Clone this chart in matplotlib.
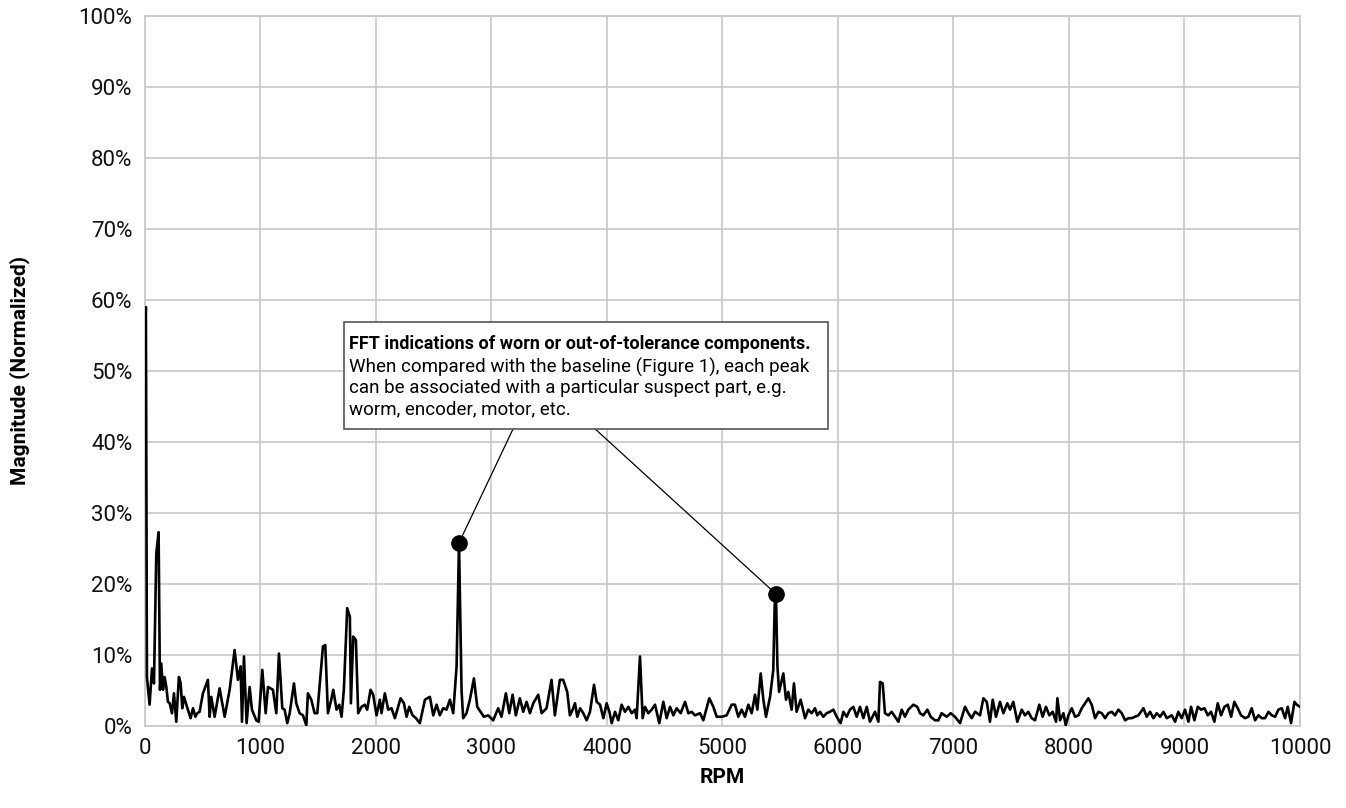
import matplotlib
matplotlib.use("Agg")
import matplotlib.pyplot as plt
from matplotlib.ticker import FuncFormatter

plt.rcParams['font.family'] = ['Roboto', 'DejaVu Sans']

# FFT spectrum (RPM, % magnitude)
rpm = [0, 8, 17, 40, 61, 78, 98, 118, 130,
       141, 156, 170, 185, 199, 214, 234, 251, 271, 294, 309, 323, 338, 358, 372, 395, 416, 436, 453, 473,
       502, 545, 560, 574, 603, 646, 690, 733, 776, 805, 828, 840, 857, 880, 906, 926, 964, 984, 1016, 1045,
       1065, 1108, 1137, 1160, 1189, 1209, 1232, 1253, 1290, 1310, 1339, 1368, 1397, 1411, 1440, 1469, 1492,
       1541, 1561, 1584, 1613,
       1630, 1659, 1682, 1702, 1722, 1751, 1774, 1783, 1803, 1826, 1846, 1875, 1904, 1924, 1953, 1976, 2005,
       2034, 2048, 2077, 2106, 2135, 2164, 2213, 2242, 2265, 2288, 2317, 2346, 2380, 2424, 2444, 2467, 2496,
       2525, 2553, 2582, 2611, 2640, 2669, 2698, 2719, 2741, 2755, 2784, 2813, 2848, 2877, 2906, 2934, 2972,
       3015, 3058, 3087, 3125, 3154, 3183, 3211, 3246, 3275, 3304, 3333, 3362, 3405, 3434, 3477, 3520, 3549,
       3592, 3621, 3656, 3679,
       3703, 3723, 3743, 3767, 3795, 3824, 3853, 3888, 3911, 3940, 3969, 3997, 4021, 4041, 4070, 4098, 4127,
       4156, 4185, 4214, 4243, 4257, 4286, 4309, 4329, 4358, 4387, 4416, 4453, 4488, 4517, 4546, 4575, 4603,
       4638, 4676, 4705, 4733, 4762, 4806, 4834, 4886, 4921, 4950, 4993, 5036, 5080, 5108, 5137, 5166, 5195,
       5224, 5253, 5282, 5302, 5331, 5354, 5377, 5412, 5440, 5452, 5463, 5476, 5490, 5527, 5550, 5570, 5599,
       5619, 5642, 5677, 5715, 5743, 5772,
       5801, 5821, 5845, 5873, 5902, 5931, 5960, 5989, 6023, 6047, 6075, 6104, 6133, 6162, 6191, 6220, 6249,
       6277, 6321, 6350, 6364, 6387, 6407, 6436, 6465, 6494, 6523, 6552, 6580, 6609, 6653, 6687, 6710, 6739,
       6774, 6803, 6840, 6869, 6898, 6941, 6976, 7013, 7057, 7100, 7129, 7158, 7187, 7230, 7259, 7288, 7316,
       7340, 7368, 7403, 7432, 7466, 7490, 7518, 7553, 7591, 7619, 7648, 7677, 7706, 7743, 7772, 7801, 7830,
       7859, 7888,
       7900, 7923, 7952, 7972, 7995, 8024, 8053, 8082, 8111, 8139, 8168, 8197, 8226, 8255, 8284, 8313, 8341,
       8370, 8399, 8428, 8457, 8486, 8515, 8543, 8572, 8601, 8645, 8673, 8702, 8731, 8760, 8789, 8818, 8847,
       8890, 8919, 8947, 8976, 9005, 9034, 9057, 9086, 9115, 9144, 9173, 9202, 9230, 9259, 9288, 9317, 9346,
       9375, 9404, 9432, 9461, 9490, 9525, 9553, 9582, 9611, 9640, 9669, 9698, 9727, 9756, 9785, 9813, 9842,
       9871, 9894, 9923, 9952, 9972, 10000]

magnitude = [56.0, 59.0, 6.9, 3.0, 8.1, 6.0, 24.3, 27.3, 5.1,
             8.8, 5.1, 6.9, 5.5, 3.4, 3.2, 1.8, 4.6, 0.6, 6.9, 6.0, 2.5, 4.1, 3.0, 2.3, 1.1, 2.5, 1.3, 1.8, 2.0,
             4.6, 6.5, 1.3, 4.1, 1.3, 5.3, 1.3, 5.1, 10.7, 6.5, 8.4, 0.6, 9.8, 0.4, 5.5, 2.3, 0.8, 0.6, 7.9, 1.8,
             5.5, 5.1, 1.8, 10.2, 2.5, 2.3, 0.4, 1.8, 6.0, 3.2, 1.8, 1.5, 0.1, 4.6, 3.7, 1.8, 1.8,
             11.2, 11.4, 1.8, 3.7,
             5.1, 2.3, 3.0, 1.3, 5.1, 16.6, 15.4, 3.2, 12.6, 12.1, 1.8, 2.7, 3.0, 2.3, 5.1, 4.4, 1.5,
             3.7, 1.8, 4.6, 2.3, 2.5, 1.1, 3.9, 3.2, 1.3, 2.7, 1.5, 1.1, 0.4, 3.7, 3.9, 4.1, 1.5,
             3.0, 1.5, 2.5, 2.3, 3.7, 1.8, 8.4, 25.8, 5.0, 1.1, 1.8, 3.7, 6.7, 2.7, 2.0, 1.3, 1.5,
             0.8, 2.5, 1.3, 4.6, 1.8, 4.4, 1.5, 3.9, 2.0, 3.4, 1.8, 3.2, 4.4, 1.8, 2.5, 6.5, 1.5,
             6.5, 6.5, 4.8, 1.5,
             2.3, 3.2, 1.3, 2.5, 1.8, 0.8, 2.0, 5.8, 3.4, 3.0, 1.1, 3.2, 2.0, 0.4, 2.0, 0.8, 3.0,
             2.0, 2.7, 1.8, 2.3, 1.1, 9.8, 1.1, 2.7, 1.8, 2.3, 3.0, 0.4, 3.4, 1.1, 2.7, 1.5, 2.5,
             1.8, 3.4, 1.8, 2.0, 1.5, 1.8, 0.8, 3.9, 2.7, 1.3, 1.3, 1.5, 3.0, 3.0, 1.3, 2.3, 1.3,
             3.0, 1.8, 4.4, 2.3, 7.4, 3.7, 1.3, 4.1, 7.9, 17.0, 18.6, 8.4, 4.8, 7.4, 3.7, 4.8, 2.3,
             6.0, 2.0, 3.7, 1.1, 2.3, 1.8,
             2.5, 1.5, 2.0, 1.3, 1.8, 2.0, 2.3, 1.3, 0.4, 2.0, 1.3, 2.3, 2.7, 1.3, 2.7, 1.1, 2.7,
             0.6, 2.0, 0.6, 6.2, 6.0, 1.8, 1.5, 2.0, 1.3, 0.6, 2.3, 1.3, 2.3, 3.0, 2.7, 1.8, 1.5,
             2.3, 1.3, 0.8, 0.8, 1.8, 1.3, 1.8, 1.3, 0.4, 2.7, 1.8, 1.1, 2.0, 1.5, 3.9, 3.4, 0.6,
             3.7, 1.3, 3.4, 1.8, 3.2, 2.3, 3.4, 0.6, 2.3, 1.5, 2.0, 1.1, 0.8, 3.0, 1.3, 2.7, 1.5,
             2.0, 0.6,
             3.9, 0.8, 1.8, 0.1, 1.5, 2.5, 1.3, 1.5, 2.5, 3.2, 3.9, 3.0, 1.1, 2.0, 1.8, 1.1, 1.8,
             2.0, 1.5, 2.3, 1.8, 0.8, 1.1, 1.1, 1.3, 1.5, 2.5, 1.3, 2.0, 1.1, 1.8, 1.3, 2.0, 1.1,
             1.5, 0.6, 2.0, 1.1, 2.3, 0.6, 2.7, 0.8, 2.7, 2.3, 2.5, 1.5, 2.0, 0.6, 3.2, 1.5, 2.7,
             3.0, 1.3, 3.4, 2.5, 1.5, 1.1, 1.3, 2.5, 0.8, 1.5, 1.1, 1.1, 2.0, 1.5, 1.3, 2.3, 2.5,
             1.1, 2.7, 0.4, 3.4, 3.0, 2.7]

# highlighted peaks
peak_rpm = [2719, 5463]
peak_mag = [25.8, 18.6]

note_title = "FFT indications of worn or out-of-tolerance components."
note_body = ("When compared with the baseline (Figure 1), each peak\n"
             "can be associated with a particular suspect part, e.g.\n"
             "worm, encoder, motor, etc.")

fig = plt.figure(figsize=(13.46, 8.08), dpi=100)
ax = fig.add_axes([0.1077, 0.1015, 0.8581, 0.8787])

ax.plot(rpm, magnitude, color='black', linewidth=1.9, zorder=3)
ax.plot(peak_rpm, peak_mag, 'o', color='black', markersize=11, zorder=4)

ax.set_xlim(0, 10000)
ax.set_ylim(0, 100)
ax.set_xticks(range(0, 10001, 1000))
ax.set_yticks(range(0, 101, 10))
ax.yaxis.set_major_formatter(FuncFormatter(lambda v, p: f"{v:.0f}%"))
ax.tick_params(length=0, labelsize=16, pad=9, colors='#111111')
ax.grid(True, color='#c8c8c8', linewidth=1.2)
ax.set_axisbelow(True)
for s in ax.spines.values():
    s.set_color('#c8c8c8')
    s.set_linewidth(1.2)

ax.set_xlabel("RPM", fontsize=15, fontweight='bold', labelpad=6)
ax.set_ylabel("Magnitude (Normalized)", fontsize=15, fontweight='bold', labelpad=35)

# annotation box
box_x0, box_x1, box_y0, box_y1 = 1723, 5913, 41.8, 56.9
ax.add_patch(plt.Rectangle((box_x0, box_y0), box_x1 - box_x0, box_y1 - box_y0,
                           facecolor='white', edgecolor='#555555', linewidth=1.2, zorder=5))
ax.text(box_x0 + 40, 55.0, note_title, fontsize=13, fontweight='bold', va='top', zorder=6)
ax.text(box_x0 + 40, 51.9, note_body, fontsize=13.5, va='top', linespacing=1.2, zorder=6)

# leader lines from box to peaks
ax.plot([3186, peak_rpm[0]], [box_y0, peak_mag[0]], color='black', linewidth=0.9, zorder=2)
ax.plot([3900, peak_rpm[1]], [box_y0, peak_mag[1]], color='black', linewidth=0.9, zorder=2)

fig.savefig("out.png", dpi=100)
